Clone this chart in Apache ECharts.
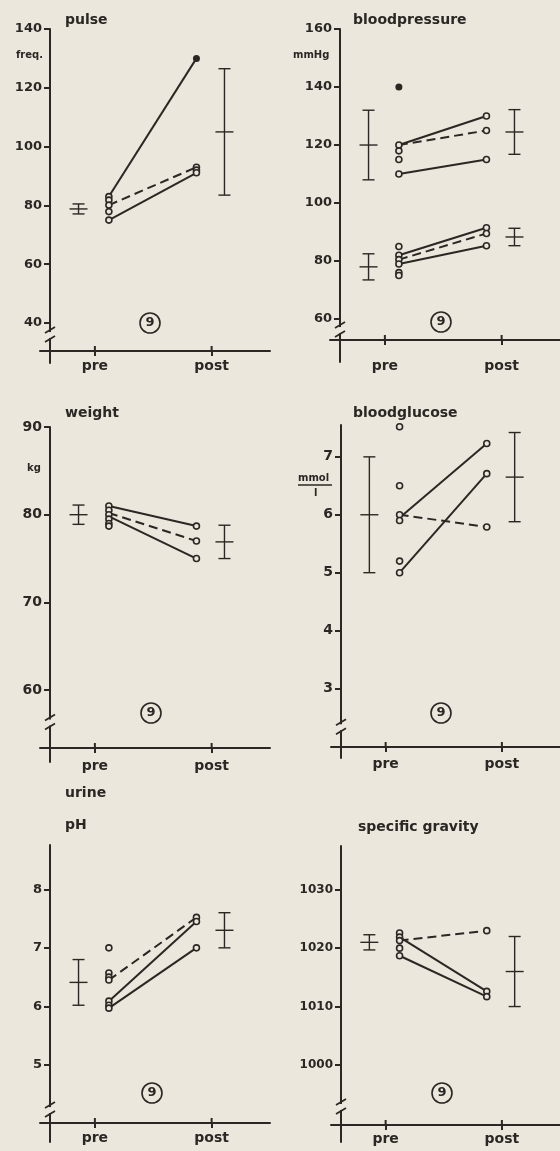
<!DOCTYPE html>
<html lang="en">
<head>
<meta charset="UTF-8">
<title>Pre / post measurements</title>
<script src="https://cdn.jsdelivr.net/npm/echarts@6.0.0/dist/echarts.min.js"></script>
<style>
  body { margin: 0; background: #ebe7dc; }
  #chart { width: 560px; height: 1151px; }
</style>
</head>
<body>
<div id="chart"></div>
<script>
// x positions: pre = 1, post = 2
var xLabels = ['pre', 'post'];

// pulse (freq.)
var pulsePre = [83, 81.8, 80.1, 77.9, 75];
var pulsePost = [93, 92, 91.1];
var pulseFilled = [[2, 130]];
var pulseSolid = [[83, 130], [75, 91.1]];
var pulseDashed = [[80.1, 93]];
var pulsePreBars = [[78.8, 1.7]];      // mean, sd
var pulsePostBars = [[105, 21.5]];
var pulseTicks = [40, 60, 80, 100, 120, 140];

// bloodpressure (mmHg)
var bpPre = [120, 118, 115, 110, 85, 82, 80.5, 79, 76, 75];
var bpPost = [130, 125, 115, 91.5, 89.5, 85.3];
var bpFilled = [[1, 140]];
var bpSolid = [[120, 130], [110, 115], [82, 91.5], [79, 85.3]];
var bpDashed = [[120, 125], [80.5, 89.5]];
var bpPreBars = [[120, 12], [78, 4.5]];
var bpPostBars = [[124.5, 7.7], [88.3, 3]];
var bpTicks = [60, 80, 100, 120, 140, 160];

// weight (kg)
var weightPre = [81, 80.5, 80, 79.5, 79, 78.7];
var weightPost = [78.7, 77, 75];
var weightSolid = [[81, 78.7], [79.8, 75]];
var weightDashed = [[80.2, 77]];
var weightPreBars = [[80, 1.1]];
var weightPostBars = [[76.9, 1.9]];
var weightTicks = [60, 70, 80, 90];

// bloodglucose (mmol/l)
var glucPre = [7.52, 6.5, 6.0, 5.9, 5.2, 5.0];
var glucPost = [7.23, 6.71, 5.79];
var glucSolid = [[5.95, 7.23], [5.0, 6.71]];
var glucDashed = [[6.0, 5.79]];
var glucPreBars = [[6.0, 1.0]];
var glucPostBars = [[6.65, 0.77]];
var glucTicks = [3, 4, 5, 6, 7];

// urine pH
var phPre = [7.0, 6.57, 6.5, 6.45, 6.09, 6.02, 5.97];
var phPost = [7.52, 7.45, 7.0];
var phSolid = [[6.09, 7.45], [5.97, 7.0]];
var phDashed = [[6.45, 7.52]];
var phPreBars = [[6.41, 0.39]];
var phPostBars = [[7.3, 0.3]];
var phTicks = [5, 6, 7, 8];

// specific gravity
var sgPre = [1022.6, 1021.9, 1021.3, 1020, 1018.7];
var sgPost = [1023, 1012.6, 1011.7];
var sgSolid = [[1021.9, 1012.6], [1018.7, 1011.7]];
var sgDashed = [[1021.3, 1023]];
var sgPreBars = [[1021, 1.3]];
var sgPostBars = [[1016, 6]];
var sgTicks = [1000, 1010, 1020, 1030];

var INK = '#2b2724';
var BG = '#ebe7dc';
var FONT = 'DejaVu Sans';

var X_PRE_BAR = 0.86, X_PRE_PTS = 1.12, X_POST_PTS = 1.87, X_POST_BAR = 2.11;

var panels = [
    {title: 'pulse', pre: pulsePre, post: pulsePost, filled: pulseFilled, solid: pulseSolid, dashed: pulseDashed,
     preBars: pulsePreBars, postBars: pulsePostBars, ticks: pulseTicks, min: 26.4, max: 140, brk: 35.9,
     grid: {left: 40, top: 29, width: 230, height: 334}, xOff: -12, lblMargin: 8, fs: 13},
    {title: 'bloodpressure', pre: bpPre, post: bpPost, filled: bpFilled, solid: bpSolid, dashed: bpDashed,
     preBars: bpPreBars, postBars: bpPostBars, ticks: bpTicks, min: 45.2, max: 160, brk: 56.2,
     grid: {left: 330, top: 29, width: 230, height: 333}, xOff: -22, lblMargin: 19, fs: 13},
    {title: 'weight', pre: weightPre, post: weightPost, filled: [], solid: weightSolid, dashed: weightDashed,
     preBars: weightPreBars, postBars: weightPostBars, ticks: weightTicks, min: 51.8, max: 90, brk: 56.3,
     grid: {left: 40, top: 427, width: 230, height: 335}, xOff: -14, lblMargin: 11, fs: 14},
    {title: 'bloodglucose', pre: glucPre, post: glucPost, filled: [], solid: glucSolid, dashed: glucDashed,
     preBars: glucPreBars, postBars: glucPostBars, ticks: glucTicks, min: 1.8, max: 7.55, brk: 2.33,
     grid: {left: 331, top: 425, width: 229, height: 333}, xOff: -11, lblMargin: 10, fs: 14},
    {title: 'urine', pre: phPre, post: phPost, filled: [], solid: phSolid, dashed: phDashed,
     preBars: phPreBars, postBars: phPostBars, ticks: phTicks, min: 3.685, max: 8.756, brk: 4.23,
     grid: {left: 40, top: 845, width: 230, height: 297}, xOff: -19, lblMargin: 8, fs: 13},
    {title: 'specific gravity', pre: sgPre, post: sgPost, filled: [], solid: sgSolid, dashed: sgDashed,
     preBars: sgPreBars, postBars: sgPostBars, ticks: sgTicks, min: 986.8, max: 1037.5, brk: 992.8,
     grid: {left: 331, top: 846, width: 229, height: 296}, xOff: -17, lblMargin: 7, fs: 12}
];

function errorBar(params, api) {
    var x = api.value(0), m = api.value(1), s = api.value(2);
    var top = api.coord([x, m + s]), bot = api.coord([x, m - s]), mid = api.coord([x, m]);
    var st = {stroke: INK, lineWidth: 1.4};
    return {type: 'group', children: [
        {type: 'line', shape: {x1: top[0], y1: top[1], x2: bot[0], y2: bot[1]}, style: st},
        {type: 'line', shape: {x1: top[0] - 6, y1: top[1], x2: top[0] + 6, y2: top[1]}, style: st},
        {type: 'line', shape: {x1: bot[0] - 6, y1: bot[1], x2: bot[0] + 6, y2: bot[1]}, style: st},
        {type: 'line', shape: {x1: mid[0] - 9, y1: mid[1], x2: mid[0] + 9, y2: mid[1]}, style: st}
    ]};
}

// axis break marks on the y axis, plus the upper half of the crossing x ticks
function axisDecor(params, api) {
    var cs = params.coordSys;
    var y = api.coord([1, api.value(1)])[1];
    var x = cs.x + 10;
    var axisY = cs.y + cs.height + api.value(2);
    var st = {stroke: INK, lineWidth: 2};
    return {type: 'group', children: [
        {type: 'rect', shape: {x: x - 3, y: y - 3, width: 6, height: 6}, style: {fill: BG}},
        {type: 'line', shape: {x1: x - 5, y1: y - 2, x2: x + 5, y2: y - 8}, style: {stroke: INK, lineWidth: 1.8}},
        {type: 'line', shape: {x1: x - 5, y1: y + 7, x2: x + 5, y2: y + 1}, style: {stroke: INK, lineWidth: 1.8}},
        {type: 'line', shape: {x1: api.coord([1, 0])[0], y1: axisY - 5, x2: api.coord([1, 0])[0], y2: axisY}, style: st},
        {type: 'line', shape: {x1: api.coord([2, 0])[0], y1: axisY - 5, x2: api.coord([2, 0])[0], y2: axisY}, style: st}
    ]};
}

var grids = [], xAxes = [], yAxes = [], series = [];
panels.forEach(function (p, i) {
    grids.push(p.grid);
    var lbl = {color: INK, fontFamily: FONT, fontWeight: 'bold'};
    xAxes.push({
        type: 'value', gridIndex: i, min: 0.53, max: 2.5, offset: p.xOff,
        axisLine: {onZero: false, lineStyle: {color: INK, width: 2}},
        axisTick: {customValues: [1, 2], length: 5, lineStyle: {color: INK, width: 2}},
        axisLabel: Object.assign({customValues: [1, 2], fontSize: 14, margin: p.lblMargin,
            formatter: function (v) { return xLabels[Math.round(v) - 1]; }}, lbl),
        splitLine: {show: false}
    });
    yAxes.push({
        type: 'value', gridIndex: i, min: p.min, max: p.max, offset: -10,
        axisLine: {show: true, onZero: false, lineStyle: {color: INK, width: 2}},
        axisTick: {show: true, customValues: p.ticks, length: 6, lineStyle: {color: INK, width: 2}},
        axisLabel: Object.assign({customValues: p.ticks, fontSize: p.fs, margin: 8,
            formatter: function (v) { return String(v); }}, lbl),
        splitLine: {show: false}
    });
    var ax = {xAxisIndex: i, yAxisIndex: i};
    var bars = p.preBars.map(function (b) { return [X_PRE_BAR, b[0], b[1]]; })
        .concat(p.postBars.map(function (b) { return [X_POST_BAR, b[0], b[1]]; }));
    series.push(Object.assign({type: 'custom', renderItem: errorBar, data: bars, z: 3}, ax));
    [[p.solid, 'solid'], [p.dashed, [9, 5]]].forEach(function (d) {
        series.push(Object.assign({
            type: 'lines', coordinateSystem: 'cartesian2d', z: 3,
            data: d[0].map(function (s) { return {coords: [[X_PRE_PTS, s[0]], [X_POST_PTS, s[1]]]}; }),
            lineStyle: {color: INK, width: 2, type: d[1], opacity: 1}
        }, ax));
    });
    var pts = p.pre.map(function (v) { return [X_PRE_PTS, v]; })
        .concat(p.post.map(function (v) { return [X_POST_PTS, v]; }));
    series.push(Object.assign({type: 'scatter', data: pts, symbolSize: 6, z: 4,
        itemStyle: {color: BG, borderColor: INK, borderWidth: 1.6, opacity: 1}}, ax));
    var fill = p.filled.map(function (f) { return [f[0] === 1 ? X_PRE_PTS : X_POST_PTS, f[1]]; });
    series.push(Object.assign({type: 'scatter', data: fill, symbolSize: 7, z: 4,
        itemStyle: {color: INK, opacity: 1}}, ax));
    series.push(Object.assign({type: 'custom', renderItem: axisDecor, data: [[1, p.brk, p.xOff]], z: 5}, ax));
});

function txt(x, y, s, size) {
    return {type: 'text', x: x, y: y, style: {text: s, fill: INK, font: 'bold ' + size + 'px "DejaVu Sans"', textVerticalAlign: 'middle'}};
}
function nine(x, y) {
    return [
        {type: 'circle', shape: {cx: x, cy: y, r: 10}, style: {fill: 'none', stroke: INK, lineWidth: 1.6}},
        {type: 'text', x: x, y: y, style: {text: '9', fill: INK, font: 'bold 13px "DejaVu Sans"', textAlign: 'center', textVerticalAlign: 'middle'}}
    ];
}

var graphics = [
    txt(65, 20, 'pulse', 14), txt(353, 20, 'bloodpressure', 14),
    txt(65, 413, 'weight', 14), txt(353, 413, 'bloodglucose', 14),
    txt(65, 793, 'urine', 14), txt(65, 825, 'pH', 14),
    txt(358, 827, 'specific gravity', 14),
    txt(16, 55, 'freq.', 10), txt(293, 55, 'mmHg', 10), txt(27, 468, 'kg', 10),
    txt(298, 478, 'mmol', 10), txt(314, 493, 'l', 10),
    {type: 'line', shape: {x1: 298, y1: 485, x2: 332, y2: 485}, style: {stroke: INK, lineWidth: 1.3}}
].concat(nine(150, 323), nine(441, 322), nine(151, 713), nine(441, 713), nine(152, 1093), nine(442, 1093));

var chart = echarts.init(document.getElementById('chart'));
chart.setOption({
    backgroundColor: BG,
    animation: false,
    grid: grids,
    xAxis: xAxes,
    yAxis: yAxes,
    series: series,
    graphic: graphics
});
</script>
</body>
</html>
